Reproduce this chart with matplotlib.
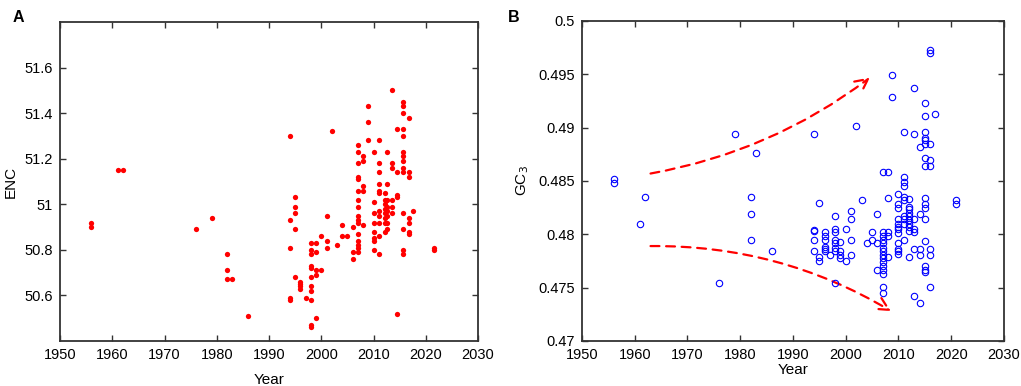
import matplotlib
matplotlib.use("Agg")
import matplotlib.pyplot as plt
from matplotlib.ticker import FuncFormatter
from matplotlib.patches import FancyArrowPatch

plt.rcParams['font.family'] = ['Liberation Sans', 'DejaVu Sans']

# ---------------- Panel A data (ENC vs Year) ----------------
enc_years = (
    [1956, 1956, 1961, 1962, 1976, 1979, 1982, 1982, 1982, 1983, 1986]
    + [1994] * 5 + [1995] * 5 + [1996] * 4 + [1997]
    + [1998] * 11 + [1999] * 5 + [2000] * 2 + [2001] * 3 + [2002] + [2003]
    + [2004] * 2 + [2005] + [2006] * 3 + [2007] * 16 + [2008] * 5 + [2009] * 3
    + [2010] * 8 + [2011] * 11 + [2012.1] * 8 + [2012.6] * 8 + [2013.5] * 6
    + [2014.5] * 5 + [2015.6] * 14 + [2016.7] * 7 + [2017.5] + [2021.5] * 2
)
enc_values = (
    [50.92, 50.90, 51.15, 51.15, 50.89, 50.94, 50.78, 50.71, 50.67, 50.67, 50.51]
    + [51.30, 50.93, 50.81, 50.59, 50.58]
    + [51.03, 50.99, 50.96, 50.89, 50.68]
    + [50.66, 50.65, 50.64, 50.63]
    + [50.59]
    + [50.83, 50.80, 50.78, 50.73, 50.72, 50.68, 50.64, 50.62, 50.58, 50.47, 50.46]
    + [50.83, 50.79, 50.71, 50.69, 50.50]
    + [50.86, 50.71]
    + [50.95, 50.84, 50.81]
    + [51.32]
    + [50.82]
    + [50.91, 50.86]
    + [50.86]
    + [50.90, 50.79, 50.76]
    + [51.26, 51.23, 51.18, 51.12, 51.11, 51.06, 51.02, 50.99, 50.95, 50.93,
       50.92, 50.87, 50.84, 50.82, 50.81, 50.79]
    + [51.21, 51.19, 51.08, 51.06, 50.91]
    + [51.43, 51.36, 51.28]
    + [51.23, 51.01, 50.96, 50.92, 50.88, 50.85, 50.84, 50.80]
    + [51.28, 51.18, 51.14, 51.09, 51.06, 51.05, 50.97, 50.95, 50.92, 50.86, 50.78]
    + [51.05, 51.02, 51.00, 50.98, 50.96, 50.94, 50.92, 50.88]
    + [51.23, 51.09, 51.02, 50.99, 50.97, 50.95, 50.92, 50.89]
    + [51.50, 51.18, 51.16, 51.02, 50.99, 50.96]
    + [51.33, 51.14, 51.04, 51.03, 50.52]
    + [51.45, 51.43, 51.40, 51.33, 51.30, 51.23, 51.21, 51.19, 51.16, 51.14,
       50.96, 50.89, 50.80, 50.78]
    + [51.38, 51.14, 51.12, 50.94, 50.92, 50.88, 50.87]
    + [50.97]
    + [50.81, 50.80]
)

# ---------------- Panel B data (GC3 vs Year) ----------------
gc3_years = (
    [1956, 1956, 1961, 1962, 1976, 1979, 1982, 1982, 1982, 1983, 1986]
    + [1994] * 5 + [1995] * 3 + [1996] * 6 + [1997] + [1998] * 8 + [1999] * 4
    + [2000] * 2 + [2001] * 4 + [2002] + [2003] + [2004] + [2005] * 2
    + [2006] * 3 + [2007] * 15 + [2008] * 5 + [2008.8] * 2 + [2010] * 12
    + [2011] * 10 + [2012] * 10 + [2013] * 7 + [2014] * 5 + [2015] * 16
    + [2016] * 8 + [2017] + [2021] * 2
)
gc3_values = (
    [0.4852, 0.4848, 0.4810, 0.4835, 0.4754, 0.4894, 0.4835, 0.4819, 0.4795,
     0.4876, 0.4784]
    + [0.4894, 0.4804, 0.4803, 0.4795, 0.4784]
    + [0.4829, 0.4779, 0.4775]
    + [0.4802, 0.4798, 0.4795, 0.4788, 0.4786, 0.4784]
    + [0.4781]
    + [0.4817, 0.4805, 0.4802, 0.4795, 0.4792, 0.4787, 0.4784, 0.4754]
    + [0.4793, 0.4784, 0.4781, 0.4778]
    + [0.4805, 0.4775]
    + [0.4822, 0.4814, 0.4795, 0.4781]
    + [0.4902]
    + [0.4832]
    + [0.4792]
    + [0.4802, 0.4795]
    + [0.4819, 0.4792, 0.4767]
    + [0.4858, 0.4802, 0.4798, 0.4795, 0.4792, 0.4787, 0.4784, 0.4781, 0.4778,
       0.4774, 0.4770, 0.4767, 0.4763, 0.4751, 0.4745]
    + [0.4858, 0.4834, 0.4802, 0.4798, 0.4779]
    + [0.4949, 0.4929]
    + [0.4838, 0.4828, 0.4825, 0.4814, 0.4810, 0.4807, 0.4805, 0.4801, 0.4792,
       0.4786, 0.4784, 0.4782]
    + [0.4896, 0.4854, 0.4849, 0.4845, 0.4835, 0.4832, 0.4817, 0.4814, 0.4810,
       0.4795]
    + [0.4833, 0.4826, 0.4824, 0.4820, 0.4817, 0.4813, 0.4810, 0.4807, 0.4803,
       0.4779]
    + [0.4937, 0.4894, 0.4814, 0.4805, 0.4802, 0.4786, 0.4742]
    + [0.4882, 0.4819, 0.4786, 0.4781, 0.4736]
    + [0.4923, 0.4911, 0.4896, 0.4890, 0.4888, 0.4885, 0.4872, 0.4864, 0.4834,
       0.4828, 0.4825, 0.4814, 0.4794, 0.4770, 0.4767, 0.4765]
    + [0.4973, 0.4970, 0.4885, 0.4870, 0.4864, 0.4786, 0.4781, 0.4751]
    + [0.4913]
    + [0.4832, 0.4828]
)

# trend arrows (annotation endpoints, data coordinates)
arrow_up_start = (1963.0, 0.4857)
arrow_up_end = (2004.6, 0.4947)
arrow_down_start = (1963.0, 0.4789)
arrow_down_end = (2008.6, 0.4728)

x_ticks = [1950, 1960, 1970, 1980, 1990, 2000, 2010, 2020, 2030]
enc_ticks = [50.6, 50.8, 51.0, 51.2, 51.4, 51.6]
gc3_ticks = [0.47, 0.475, 0.48, 0.485, 0.49, 0.495, 0.5]

fig = plt.figure(figsize=(10.21, 3.86), dpi=100)
axA = fig.add_axes([0.0588, 0.1166, 0.4094, 0.8264])
axB = fig.add_axes([0.5700, 0.1166, 0.4133, 0.8290])

spine_color = '#333333'
for ax in (axA, axB):
    for s in ax.spines.values():
        s.set_linewidth(1.3)
        s.set_color(spine_color)
    ax.tick_params(direction='in', top=True, right=True, length=4, width=1.0,
                   color=spine_color, labelsize=10.5, pad=5)
    ax.set_xlim(1950, 2030)
    ax.set_xticks(x_ticks)

# Panel A
axA.plot(enc_years, enc_values, linestyle='none', marker='o', markersize=3.8,
         color='#ff0000', markeredgewidth=0)
axA.set_ylim(50.4, 51.8)
axA.set_yticks(enc_ticks)
axA.yaxis.set_major_formatter(FuncFormatter(lambda v, p: f"{v:g}"))
axA.set_xlabel('Year', fontsize=11, labelpad=8)
axA.set_ylabel('ENC', fontsize=11, labelpad=5)
fig.text(0.012, 0.955, 'A', fontsize=11.5, fontweight='bold', va='center')

# Panel B
axB.plot(gc3_years, gc3_values, linestyle='none', marker='o', markersize=4.6,
         markerfacecolor='none', markeredgecolor='#0000ff', markeredgewidth=0.8)
axB.set_ylim(0.47, 0.5)
axB.set_yticks(gc3_ticks)
axB.yaxis.set_major_formatter(FuncFormatter(lambda v, p: f"{v:g}"))
axB.set_xlabel('Year', fontsize=11, labelpad=1)
axB.set_ylabel('GC$_3$', fontsize=11, labelpad=5)
fig.text(0.497, 0.955, 'B', fontsize=11.5, fontweight='bold', va='center')

arrow_kw = dict(arrowstyle='->,head_length=6,head_width=3', color='#ff0000',
                linestyle=(0, (4, 3)), linewidth=1.6, mutation_scale=1.5,
                shrinkA=0, shrinkB=0)
axB.add_patch(FancyArrowPatch(arrow_up_start, arrow_up_end,
                              connectionstyle='arc3,rad=0.12', **arrow_kw))
axB.add_patch(FancyArrowPatch(arrow_down_start, arrow_down_end,
                              connectionstyle='arc3,rad=-0.14', **arrow_kw))

fig.savefig('out.png', dpi=100)
